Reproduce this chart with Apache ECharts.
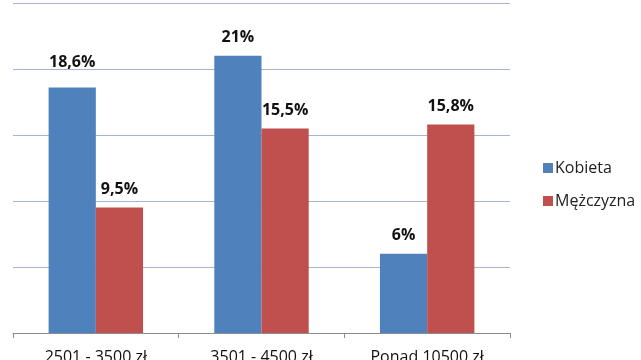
<!DOCTYPE html>
<html><head><meta charset="utf-8">
<script src="https://cdn.jsdelivr.net/npm/echarts@6/dist/echarts.min.js"></script>
<style>html,body{margin:0;padding:0;background:#fff}#c{width:641px;height:360px}</style>
</head><body><div id="c"></div>
<script>
const categories = ["2501 - 3500 zł", "3501 - 4500 zł", "Ponad 10500 zł"];
const seriesNames = ["Kobieta", "Mężczyzna"];
const kobieta = [18.6, 21, 6];
const mezczyzna = [9.5, 15.5, 15.8];

const chart = echarts.init(document.getElementById('c'), null, {renderer: 'canvas'});
const fontFam = '"Open Sans", "Noto Sans", sans-serif';
const fmt = p => String(p.value).replace('.', ',') + '%';
const lbl = {show: true, position: 'top', distance: 10, formatter: fmt, fontFamily: fontFam, fontSize: 16, fontWeight: 'bold', color: '#111'};
// the first label sits a little higher in the reference
const kobietaData = kobieta.map((v, i) => i === 0 ? {value: v, label: {distance: 17}} : v);
chart.setOption({
  animation: false,
  backgroundColor: '#fff',
  grid: {left: 13, right: 131, top: 3, bottom: 27, containLabel: false, outerBoundsMode: 'none'},
  legend: {
    orient: 'vertical', left: 538, top: 155, itemWidth: 10, itemHeight: 10, itemGap: 17,
    icon: 'rect',
    textStyle: {fontFamily: fontFam, fontSize: 16, color: '#222', padding: [0, 0, 0, -3]},
    data: seriesNames
  },
  xAxis: {
    type: 'category', data: categories,
    axisLine: {lineStyle: {color: '#8c8c8c'}},
    axisTick: {show: true, length: 5, lineStyle: {color: '#8c8c8c'}},
    axisLabel: {fontFamily: fontFam, fontSize: 16, color: '#111', margin: 16}
  },
  yAxis: {
    type: 'value', min: 0, max: 25, interval: 5,
    axisLine: {show: false}, axisTick: {show: false}, axisLabel: {show: false},
    splitLine: {lineStyle: {color: '#a4b4d4', width: 1}}
  },
  series: [
    {name: seriesNames[0], type: 'bar', data: kobietaData, barGap: '0%', barCategoryGap: '43%',
     itemStyle: {color: '#4f81bd'}, label: lbl},
    {name: seriesNames[1], type: 'bar', data: mezczyzna, barGap: '0%', barCategoryGap: '43%',
     itemStyle: {color: '#c0504d'}, label: lbl}
  ]
});
</script></body></html>
